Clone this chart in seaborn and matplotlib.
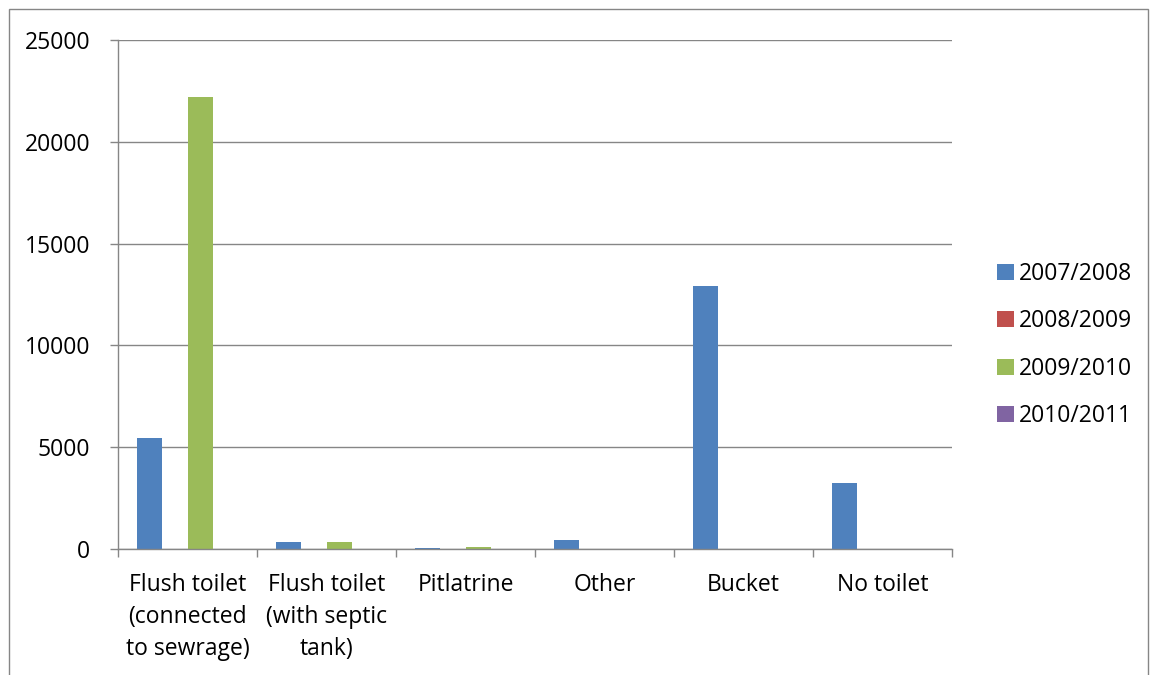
import matplotlib
matplotlib.use("Agg")
import matplotlib.pyplot as plt
import seaborn as sns
import pandas as pd
from matplotlib.patches import Rectangle, Patch

categories = ["Flush toilet\n(connected\nto sewrage)", "Flush toilet\n(with septic\ntank)",
              "Pitlatrine", "Other", "Bucket", "No toilet"]
years = ["2007/2008", "2008/2009", "2009/2010", "2010/2011"]
v2007 = [5450, 330, 60, 440, 12920, 3240]
v2008 = [0, 0, 0, 0, 0, 0]
v2009 = [22200, 330, 100, 0, 0, 0]
v2010 = [0, 0, 0, 0, 0, 0]
colors = ["#4F81BD", "#C0504D", "#9BBB59", "#8064A2"]

rows = []
for yr, vals in zip(years, [v2007, v2008, v2009, v2010]):
    for c, v in zip(categories, vals):
        rows.append({"cat": c, "year": yr, "val": v})
df = pd.DataFrame(rows)

sns.set_style("white")
plt.rcParams["font.family"] = ["Open Sans", "DejaVu Sans"]
plt.rcParams["text.color"] = "black"
plt.rcParams["xtick.color"] = "black"
plt.rcParams["ytick.color"] = "black"
grid_c = "#868686"
fs = 16.5

fig = plt.figure(figsize=(11.5, 6.75), dpi=100)
ax = fig.add_axes([118/1150, 1 - 549/675, (952-118)/1150, (549-40)/675])

sns.barplot(data=df, x="cat", y="val", hue="year", hue_order=years, order=categories,
            palette=colors, width=4/5.5, gap=0, linewidth=0, saturation=1, ax=ax,
            legend=False)

ax.set_ylim(0, 25000)
ax.set_xlim(-0.5, 5.5)
ax.set_yticks([0, 5000, 10000, 15000, 20000, 25000])
ax.set_yticklabels(["0", "5000", "10000", "15000", "20000", "25000"])
ax.yaxis.grid(True, color=grid_c, linewidth=1)
ax.set_axisbelow(True)
ax.set_xlabel("")
ax.set_ylabel("")
for s in ["top", "right"]:
    ax.spines[s].set_visible(False)
for s in ["left", "bottom"]:
    ax.spines[s].set_color(grid_c)
    ax.spines[s].set_linewidth(1)

ax.tick_params(axis="y", length=6, width=1, color=grid_c, labelcolor="black", pad=14,
               labelsize=fs, direction="out", left=True)
ax.set_xticks([i - 0.5 for i in range(7)], minor=True)
ax.tick_params(axis="x", which="minor", length=6, width=1, color=grid_c, direction="out", bottom=True)
ax.tick_params(axis="x", which="major", length=0, pad=17, labelsize=fs, labelcolor="black")
for t in ax.get_xticklabels():
    t.set_linespacing(1.45)
    t.set_verticalalignment("top")

handles = [Patch(facecolor=c, edgecolor="none") for c in colors]
leg = fig.legend(handles, years, loc="center left", bbox_to_anchor=(986/1150, 1 - 345/675),
                 frameon=False, fontsize=fs, handlelength=0.7, handleheight=0.7,
                 handletextpad=0.25, labelspacing=1.02, borderpad=0)
for t in leg.get_texts():
    t.set_color("black")

fig.add_artist(Rectangle((9/1150, -0.1), 1139/1150, 1.1 - 9/675, transform=fig.transFigure,
                         fill=False, edgecolor=grid_c, linewidth=1))

fig.savefig("out.png", dpi=100)
